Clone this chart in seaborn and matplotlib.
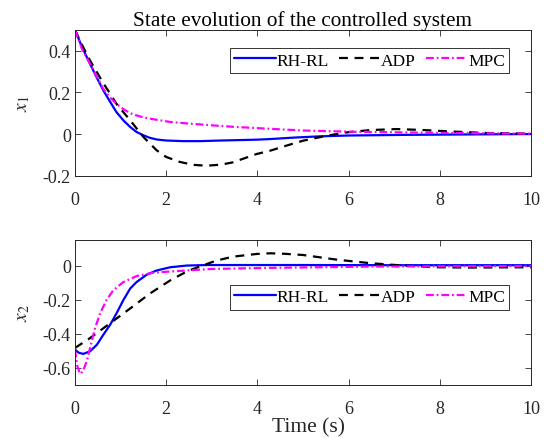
import numpy as np
import pandas as pd
import matplotlib
matplotlib.use("Agg")
import matplotlib.pyplot as plt
import seaborn as sns

# ---- data ----
series_names = ["RH-RL", "ADP", "MPC"]

t_x1_rhrl = [0, 0.15, 0.33, 0.48, 0.62, 0.77, 0.91, 1.06, 1.21, 1.35, 1.5, 1.64, 1.79, 2.0, 2.37, 2.74, 3.2, 3.98, 4.28, 4.8, 5.37, 6.0, 7.2, 8.5, 10]
x1_rhrl = [0.5, 0.42, 0.337, 0.27, 0.21, 0.155, 0.105, 0.066, 0.034, 0.01, -0.006, -0.018, -0.026, -0.031, -0.034, -0.034, -0.031, -0.027, -0.024, -0.017, -0.011, -0.007, -0.004, -0.002, 0.0]

t_x1_adp = [0, 0.15, 0.33, 0.62, 0.91, 1.21, 1.5, 1.79, 2.0, 2.3, 2.6, 2.88, 3.2, 3.46, 3.98, 4.28, 4.6, 5.0, 5.52, 5.96, 6.47, 7.05, 7.56, 8.29, 9.02, 10]
x1_adp = [0.5, 0.43, 0.353, 0.245, 0.145, 0.066, -0.014, -0.078, -0.11, -0.134, -0.148, -0.152, -0.147, -0.136, -0.096, -0.08, -0.058, -0.032, -0.008, 0.008, 0.019, 0.024, 0.02, 0.012, 0.005, 0.002]

t_x1_mpc = [0, 0.15, 0.33, 0.62, 0.77, 0.91, 1.06, 1.21, 1.4, 1.64, 2.09, 2.52, 3.0, 3.46, 4.2, 5.0, 6.1, 7.9, 9.4, 10]
x1_mpc = [0.5, 0.41, 0.337, 0.217, 0.175, 0.145, 0.12, 0.1, 0.086, 0.074, 0.058, 0.05, 0.042, 0.035, 0.026, 0.017, 0.011, 0.006, 0.003, 0.002]

t_x2_rhrl = [0, 0.08, 0.18, 0.33, 0.48, 0.62, 0.77, 0.91, 1.06, 1.21, 1.35, 1.57, 1.79, 2.09, 2.45, 2.9, 3.5, 5.0, 7.0, 10]
x2_rhrl = [-0.494, -0.512, -0.519, -0.504, -0.465, -0.407, -0.348, -0.281, -0.203, -0.135, -0.097, -0.054, -0.029, -0.01, 0.0, 0.003, 0.003, 0.003, 0.002, 0.002]

t_x2_adp = [0, 0.33, 0.77, 1.21, 1.64, 2.09, 2.45, 2.74, 3.1, 3.46, 3.98, 4.28, 4.6, 5.0, 5.73, 6.47, 7.2, 7.93, 8.66, 9.3, 10]
x2_adp = [-0.484, -0.426, -0.339, -0.252, -0.165, -0.087, -0.035, -0.005, 0.029, 0.052, 0.068, 0.072, 0.069, 0.062, 0.035, 0.014, 0.0, -0.01, -0.012, -0.011, -0.01]

t_x2_mpc = [0, 0.05, 0.11, 0.16, 0.22, 0.28, 0.33, 0.44, 0.55, 0.69, 0.84, 1.06, 1.35, 1.72, 2.09, 2.45, 3.0, 4.2, 6.47, 8.5, 10]
x2_mpc = [-0.494, -0.59, -0.636, -0.625, -0.59, -0.54, -0.484, -0.368, -0.281, -0.203, -0.145, -0.097, -0.062, -0.042, -0.035, -0.029, -0.02, -0.014, -0.006, -0.004, -0.003]

x_ticks = [0, 2, 4, 6, 8, 10]
x_tick_labels = ["0", "2", "4", "6", "8", "10"]
y1_ticks = [-0.2, 0, 0.2, 0.4]
y1_tick_labels = ["-0.2", "0", "0.2", "0.4"]
y2_ticks = [-0.6, -0.4, -0.2, 0]
y2_tick_labels = ["-0.6", "-0.4", "-0.2", "0"]

title_text = "State evolution of the controlled system"
xlabel_text = "Time (s)"

# ---- styling ----
sns.set_style("ticks")
plt.rcParams["font.family"] = ["Liberation Serif", "DejaVu Serif"]
plt.rcParams["mathtext.fontset"] = "stix"
plt.rcParams["xtick.direction"] = "in"
plt.rcParams["ytick.direction"] = "in"

colors = {"RH-RL": "#0000ff", "ADP": "#000000", "MPC": "#ff00ff"}
dashes = {"RH-RL": "", "ADP": (4, 3), "MPC": (3.5, 1.3, 0.8, 1.3)}

fig = plt.figure(figsize=(5.54, 4.39), dpi=100)
ax1 = fig.add_axes([0.1354, 0.5975, 0.823, 0.332])
ax2 = fig.add_axes([0.1354, 0.1214, 0.823, 0.3296])

edge = "#262626"

def make_df(t_list, y_list):
    frames = []
    for name, t, y in zip(series_names, t_list, y_list):
        frames.append(pd.DataFrame({"t": t, "v": y, "method": name}))
    return pd.concat(frames, ignore_index=True)

df1 = make_df([t_x1_rhrl, t_x1_adp, t_x1_mpc], [x1_rhrl, x1_adp, x1_mpc])
df2 = make_df([t_x2_rhrl, t_x2_adp, t_x2_mpc], [x2_rhrl, x2_adp, x2_mpc])

for ax, df, yt, ytl, ylim, ylab, leg_y in [
    (ax1, df1, y1_ticks, y1_tick_labels, (-0.2, 0.5), r"$x_1$", 0.876),
    (ax2, df2, y2_ticks, y2_tick_labels, (-0.7, 0.15), r"$x_2$", 0.691),
]:
    sns.lineplot(data=df, x="t", y="v", hue="method", style="method",
                 palette=colors, dashes=dashes, hue_order=series_names,
                 style_order=series_names, linewidth=1.6, ax=ax,
                 sort=False, estimator=None)
    ax.set_xlim(0, 10)
    ax.set_ylim(*ylim)
    ax.set_xticks(x_ticks)
    ax.set_xticklabels(x_tick_labels)
    ax.set_yticks(yt)
    ax.set_yticklabels(ytl)
    ax.tick_params(axis="both", which="both", direction="in", top=True, right=True,
                   labelsize=13, colors=edge, length=4, width=0.6)
    ax.tick_params(axis="x", pad=11)
    ax.tick_params(axis="y", pad=3)
    for s in ax.spines.values():
        s.set_visible(True)
        s.set_color(edge)
        s.set_linewidth(0.7)
    ax.set_xlabel("")
    ax.set_ylabel(ylab, fontsize=14, color=edge, labelpad=8)
    leg = ax.legend(ncol=3, fontsize=12.5, frameon=True, fancybox=False,
                    edgecolor="#000000", handlelength=2.4, columnspacing=0.55,
                    handletextpad=0.05, borderpad=0.25, borderaxespad=0.0,
                    loc="upper left", bbox_to_anchor=(0.34, leg_y))
    leg.get_frame().set_linewidth(0.7)
    for txt in leg.get_texts():
        txt.set_color("#000000")

ax1.set_title(title_text, fontsize=15.3, color="#000000", pad=0.5)
ax2.set_xlabel(xlabel_text, fontsize=15.5, color=edge, labelpad=0)
ax2.xaxis.label.set_x(0.513)

fig.savefig("out.png", dpi=100)
